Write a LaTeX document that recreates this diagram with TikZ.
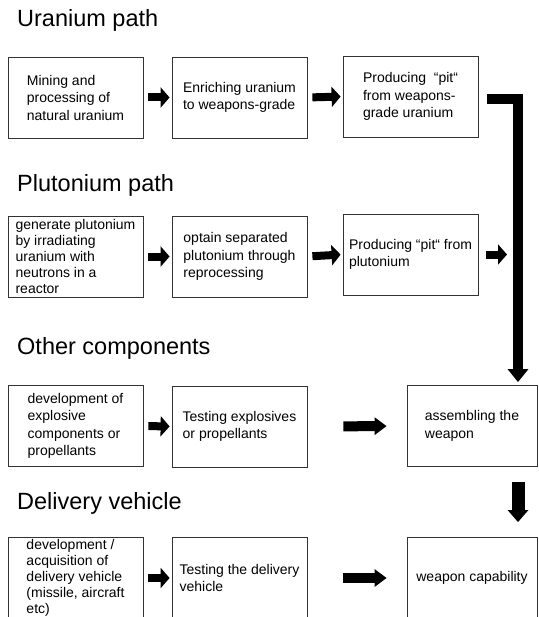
\documentclass[tikz,border=0pt]{standalone}
\usepackage{fontspec}
\setmainfont{Liberation Sans}
\usetikzlibrary{arrows.meta}

\begin{document}
\begin{tikzpicture}[x=1pt, y=-1pt,
		stepbox/.style={draw=black!80, line width=0.8pt, minimum width=135pt, minimum height=81pt, inner sep=0pt, align=left, font=\fontsize{14}{17.5}\selectfont},
		tightbox/.style={stepbox, font=\fontsize{14}{16}\selectfont},
		heading/.style={anchor=west, inner sep=0pt, font=\fontsize{23.5}{28}\selectfont},
		smallarrow/.style={line width=8pt, -{Triangle[length=9pt,width=20pt]}, shorten <=5pt, shorten >=2pt},
		bigarrow/.style={line width=10pt, -{Triangle[length=12pt,width=17pt]}, shorten <=36pt, shorten >=20pt},
		bigbar/.style={line width=10pt, -{Triangle[length=13pt,width=20pt]}}]
			\useasboundingbox (0,0) rectangle (538,617);

			% headings
			\node[heading] (hu) at (17,20) {Uranium path};
			\node[heading] (hp) at (17,185) {Plutonium path};
			\node[heading] (ho) at (17,348) {Other components};
			\node[heading] (hd) at (17,503) {Delivery vehicle};

			% uranium path
			\node[stepbox] (u1) at (75.5,97.5) {Mining and\\processing of\\natural uranium};
			\node[stepbox] (u2) at (239.5,97.5) {Enriching uranium\\to weapons-grade};
			\node[stepbox] (u3) at (410.5,96.5) {Producing \ “pit“\\from weapons-\\grade uranium};

			% plutonium path
			\node[tightbox] (p1) at (75.5,256.5) {generate plutonium\\by irradiating\\uranium with\\neutrons in a\\reactor};
			\node[stepbox] (p2) at (239.5,256.5) {optain separated\\plutonium through\\reprocessing};
			\node[stepbox] (p3) at (410.5,254.5) {Producing “pit“ from\\plutonium};

			% other components
			\node[stepbox] (o1) at (75.5,426) {development of\\explosive\\components or\\propellants};
			\node[stepbox] (o2) at (239.5,426.5) {Testing explosives\\or propellants};
			\node[stepbox, minimum width=130pt] (asm) at (472,426) {assembling the\\weapon};

			% delivery vehicle
			\node[tightbox] (d1) at (75.5,578) {development /\\acquisition of\\delivery vehicle\\(missile, aircraft\\etc)};
			\node[stepbox] (d2) at (239.5,578) {Testing the delivery\\vehicle};
			\node[stepbox, minimum width=130pt] (cap) at (472,578) {weapon capability};

			\coordinate (drop) at (518,99);

			\draw[smallarrow] (u1.east) -- (u2.west);
			\draw[smallarrow] (u2.east) -- (u3.west);
			\draw[smallarrow] (p1.east) -- (p2.west);
			\draw[smallarrow] (p2.east) -- (p3.west);
			\draw[smallarrow, shorten <=8pt, shorten >=11pt] (p3.east) -- (p3.east -| drop);
			\draw[smallarrow] (o1.east) -- (o2.west);
			\draw[smallarrow] (d1.east) -- (d2.west);

			\draw[bigarrow] (o2.east) -- (asm.west);
			\draw[bigarrow] (d2.east) -- (cap.west);

			\draw[bigbar, shorten <=9pt, shorten >=3pt] (u3.east |- drop) -- (drop) -- (drop |- asm.north);
			\draw[line width=13pt, -{Triangle[length=12pt,width=20pt]}, shorten <=15pt, shorten >=15pt] (asm.south -| drop) -- (cap.north -| drop);
		\end{tikzpicture}
\end{document}
